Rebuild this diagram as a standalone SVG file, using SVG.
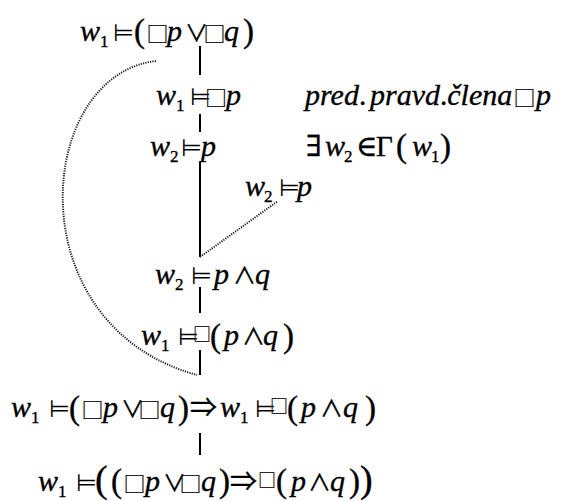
<svg xmlns="http://www.w3.org/2000/svg" width="568" height="501" viewBox="0 0 568 501">
<style>
text{font-family:"Liberation Serif","DejaVu Serif",serif;fill:#000;stroke:#000;stroke-width:0.35;font-size:30px}
.i{font-style:italic;font-size:30px}
.r{font-size:29px;font-style:normal}
.sym{font-family:"DejaVu Sans",sans-serif;font-size:24px;stroke-width:0;font-style:normal}
.op{font-family:"Noto Sans CJK JP",sans-serif;font-size:23px;stroke-width:0.3;font-style:normal}
.arr{font-family:"Noto Sans CJK JP",sans-serif;font-size:27px;stroke-width:0.3;font-style:normal}
.box{font-family:"Noto Sans CJK JP",sans-serif;font-size:22px;stroke-width:0.2;font-style:normal}
.sbox{font-family:"Noto Sans CJK JP",sans-serif;font-size:18px;stroke-width:0.2;font-style:normal}
.sub{font-size:17px;font-style:normal}
.par{font-size:33px;font-style:normal}
.bpar{font-size:38px;font-style:normal}
.conn{stroke:#000;stroke-width:2;fill:none}
.dot{stroke:#222;stroke-width:2;fill:none;stroke-dasharray:1.2 1.2}
</style>
<g id="connectors">
<line class="conn" x1="200" y1="46" x2="200" y2="75"/>
<line class="conn" x1="200" y1="114" x2="200" y2="132"/>
<line class="conn" x1="200" y1="162" x2="200" y2="257"/>
<line class="conn" x1="200" y1="287" x2="200" y2="313"/>
<line class="conn" x1="200" y1="350" x2="200" y2="375"/>
<line class="conn" x1="200" y1="433" x2="200" y2="455"/>
<line class="dot" x1="200" y1="257" x2="278" y2="201"/>
<path class="dot" d="M156,61 C35,75 15,325 197,375"/>
</g>
<g id="n1">
<text y="41"><tspan class="i" x="80">w</tspan><tspan class="sub" x="100" y="47">1</tspan><tspan class="sym" x="113" y="41">⊨</tspan><tspan class="par" x="134" y="42">(</tspan><tspan class="box" x="146.5" y="42">□</tspan><tspan class="i" x="167" y="41">p</tspan><tspan class="op" x="185">∨</tspan><tspan class="box" x="203.5" y="42">□</tspan><tspan class="i" x="224" y="41">q</tspan><tspan class="par" x="243" y="42">)</tspan></text>
</g>
<g id="n2">
<text y="105"><tspan class="i" x="156">w</tspan><tspan class="sub" x="176" y="111">1</tspan><tspan class="sym" x="190" y="105">⊨</tspan><tspan class="box" x="205" y="106">□</tspan><tspan class="i" x="226" y="105">p</tspan></text>
</g>
<g id="n2note">
<text y="105"><tspan class="i" x="305">pred</tspan><tspan class="r">.</tspan><tspan class="i" x="370">pravd</tspan><tspan class="r">.</tspan><tspan class="i">člena</tspan><tspan class="box" x="513.5" y="106">□</tspan><tspan class="i" x="536" y="105">p</tspan></text>
</g>
<g id="n3">
<text y="156"><tspan class="i" x="150">w</tspan><tspan class="sub" x="170" y="162">2</tspan><tspan class="sym" x="181" y="156">⊨</tspan><tspan class="i" x="201">p</tspan></text>
</g>
<g id="n3note">
<text y="156"><tspan class="r" x="306">∃</tspan><tspan class="i" x="325">w</tspan><tspan class="sub" x="344" y="162">2</tspan><tspan class="r" x="356" y="156">∈</tspan><tspan class="r" x="376">Γ</tspan><tspan class="par" x="396" y="157">(</tspan><tspan class="i" x="412" y="156">w</tspan><tspan class="sub" x="431" y="162">1</tspan><tspan class="par" x="440" y="157">)</tspan></text>
</g>
<g id="n4">
<text y="196"><tspan class="i" x="245">w</tspan><tspan class="sub" x="264" y="202">2</tspan><tspan class="sym" x="279" y="196">⊨</tspan><tspan class="i" x="297">p</tspan></text>
</g>
<g id="n5">
<text y="284"><tspan class="i" x="155">w</tspan><tspan class="sub" x="175" y="290">2</tspan><tspan class="sym" x="191" y="284">⊨</tspan><tspan class="i" x="214">p</tspan><tspan class="op" x="233">∧</tspan><tspan class="i" x="255">q</tspan></text>
</g>
<g id="n6">
<text y="345"><tspan class="i" x="141">w</tspan><tspan class="sub" x="161" y="351">1</tspan><tspan class="sym" x="178" y="345">⊨</tspan><tspan class="sbox" x="193" y="341">□</tspan><tspan class="par" x="210" y="347">(</tspan><tspan class="i" x="224" y="345">p</tspan><tspan class="op" x="242">∧</tspan><tspan class="i" x="263">q</tspan><tspan class="par" x="283" y="347">)</tspan></text>
</g>
<g id="n7">
<text y="417"><tspan class="i" x="11">w</tspan><tspan class="sub" x="31" y="423">1</tspan><tspan class="sym" x="49" y="417">⊨</tspan><tspan class="par" x="69" y="419">(</tspan><tspan class="box" x="81.5" y="418">□</tspan><tspan class="i" x="103" y="417">p</tspan><tspan class="op" x="121">∨</tspan><tspan class="box" x="138.5" y="418">□</tspan><tspan class="i" x="160" y="417">q</tspan><tspan class="par" x="178" y="419">)</tspan><tspan class="arr" x="190" y="417">⇒</tspan><tspan class="i" x="220">w</tspan><tspan class="sub" x="240" y="423">1</tspan><tspan class="sym" x="255" y="417">⊨</tspan><tspan class="sbox" x="270" y="413">□</tspan><tspan class="par" x="287" y="419">(</tspan><tspan class="i" x="301" y="417">p</tspan><tspan class="op" x="320">∧</tspan><tspan class="i" x="343">q</tspan><tspan class="par" x="365" y="419">)</tspan></text>
</g>
<g id="n8">
<text y="491"><tspan class="i" x="38">w</tspan><tspan class="sub" x="58" y="497">1</tspan><tspan class="sym" x="76" y="491">⊨</tspan><tspan class="bpar" x="95" y="492">(</tspan><tspan class="par" x="111" y="492">(</tspan><tspan class="box" x="123.5" y="492">□</tspan><tspan class="i" x="145" y="491">p</tspan><tspan class="op" x="163">∨</tspan><tspan class="box" x="179.5" y="492">□</tspan><tspan class="i" x="201" y="491">q</tspan><tspan class="par" x="219" y="492">)</tspan><tspan class="arr" x="230" y="491">⇒</tspan><tspan class="sbox" x="258" y="487">□</tspan><tspan class="par" x="276" y="492">(</tspan><tspan class="i" x="291" y="491">p</tspan><tspan class="op" x="308">∧</tspan><tspan class="i" x="330">q</tspan><tspan class="par" x="349" y="492">)</tspan><tspan class="bpar" x="360" y="492">)</tspan></text>
</g>
</svg>
